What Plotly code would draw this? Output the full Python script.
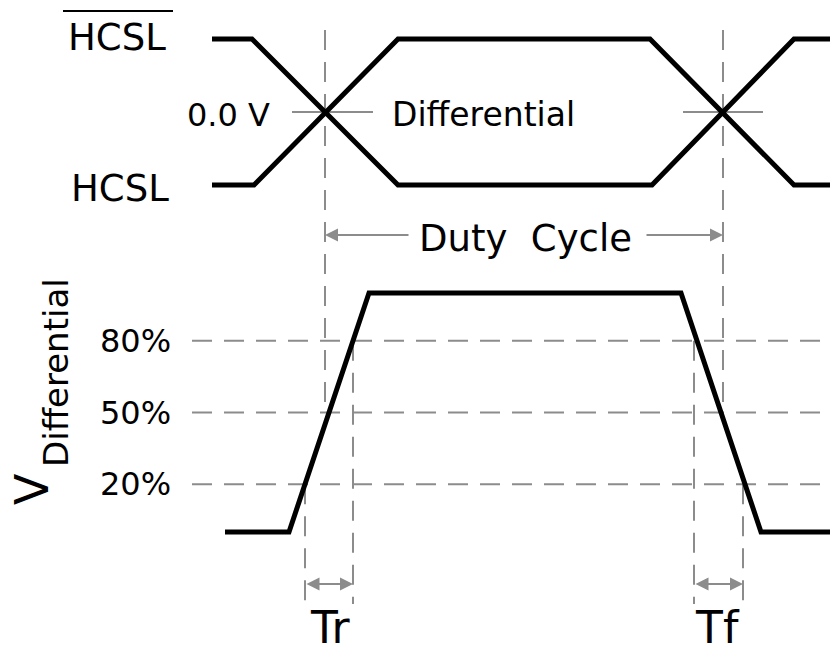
import plotly.graph_objects as go

W, H = 830, 655

# ---- data ----
# top panel: complementary HCSL pair (levels +1 / -1, crossing at 0.0 V)
t_hcsl_bar = [212, 252, 398, 652, 794, 830]
v_hcsl_bar = [1, 1, -1, -1, 1, 1]
t_hcsl = [212, 254, 398, 650, 794, 830]
v_hcsl = [-1, -1, 1, 1, -1, -1]
cross_t = [325, 723]                      # 0.0 V crossing instants
cross_mark = [[292, 373], [683, 763]]     # short grey reference marks at 0.0 V

# bottom panel: normalised differential voltage
t_diff = [225, 289, 369, 681, 761, 830]
v_diff = [0, 0, 1, 1, 0, 0]
thresh_levels = [0.2, 0.5, 0.8]
thresh_labels = ["20%", "50%", "80%"]
tr_marks = [305, 353]                     # 20% / 80% on rising edge
tf_marks = [694, 743]                     # 80% / 20% on falling edge

FONT = "DejaVu Sans"
GREY = "#8c8c8c"

# ---- pixel helpers for layout ----
def py(p):            # pixel row -> paper
    return 1 - p / H

def px(p):            # pixel column -> paper
    return p / W

# top axis: +1 -> 39 px, -1 -> 185 px
top_ppu = (185 - 39) / 2
top_zero = 112
y_top_range = [-(H - top_zero) / top_ppu, top_zero / top_ppu]
def y_top(p):
    return (top_zero - p) / top_ppu

# bottom axis: 0 -> 532 px, 1 -> 293 px
bot_ppu = 532 - 293
bot_zero = 532
y_bot_range = [-(H - bot_zero) / bot_ppu, bot_zero / bot_ppu]
def y_bot(p):
    return (bot_zero - p) / bot_ppu

fig = go.Figure()
fig.add_trace(go.Scatter(x=t_hcsl_bar, y=v_hcsl_bar, mode="lines",
                         line=dict(color="black", width=5), yaxis="y", hoverinfo="skip"))
fig.add_trace(go.Scatter(x=t_hcsl, y=v_hcsl, mode="lines",
                         line=dict(color="black", width=5), yaxis="y", hoverinfo="skip"))
fig.add_trace(go.Scatter(x=t_diff, y=v_diff, mode="lines",
                         line=dict(color="black", width=5), yaxis="y2", hoverinfo="skip"))

shapes = []
dash = "20px,12px"
# threshold lines
for lv in thresh_levels:
    shapes.append(dict(type="line", xref="x", yref="y2", x0=192, x1=830, y0=lv, y1=lv,
                       line=dict(color=GREY, width=2, dash=dash), layer="below"))
# crossing verticals (from top down to 50%)
for ct in cross_t:
    shapes.append(dict(type="line", xref="x", yref="y2", x0=ct, x1=ct,
                       y0=y_bot(30), y1=0.5,
                       line=dict(color=GREY, width=2, dash=dash), layer="below"))
# crosshair marks at 0.0 V
for a, b in cross_mark:
    shapes.append(dict(type="line", xref="x", yref="y", x0=a, x1=b, y0=0, y1=0,
                       line=dict(color=GREY, width=2), layer="below"))
# rise / fall measurement verticals
meas = [(tr_marks[0], 0.2), (tr_marks[1], 0.8), (tf_marks[0], 0.8), (tf_marks[1], 0.2)]
for xm, lv in meas:
    shapes.append(dict(type="line", xref="x", yref="y2", x0=xm, x1=xm,
                       y0=lv, y1=y_bot(604),
                       line=dict(color=GREY, width=2, dash=dash), layer="below"))
# overline over the first HCSL label
shapes.append(dict(type="line", xref="paper", yref="paper", x0=px(63), x1=px(173),
                   y0=py(11), y1=py(11), line=dict(color="black", width=2)))

ann = []
def text(s, x, y, size, **kw):
    d = dict(text=s, x=px(x), y=py(y), xref="paper", yref="paper", showarrow=False,
             font=dict(family=FONT, size=size, color="black"),
             xanchor="center", yanchor="middle")
    d.update(kw)
    ann.append(d)

text("HCSL", 117, 38, 37)
text("HCSL", 120, 188, 37)
text("0.0 V", 228, 115, 32)
text("Differential", 483, 115, 33)
text("Duty  Cycle", 525, 238, 37)
for lv, lab in zip(thresh_levels, thresh_labels):
    ann.append(dict(text=lab, x=173, y=lv, xref="x", yref="y2", showarrow=False,
                    font=dict(family=FONT, size=32, color="black"),
                    xanchor="right", yanchor="middle"))
text("Tr", 330, 654, 44, yanchor="bottom", borderpad=0)
text("Tf", 717, 654, 44, yanchor="bottom", borderpad=0)
text("V", 32, 489, 46, textangle=-90)
text("Differential", 56, 373, 34, textangle=-90)

# arrows
def arrow(xh, xt, yv, yref, both=False):
    ann.append(dict(x=xh, y=yv, ax=xt, ay=yv, xref="x", yref=yref, axref="x", ayref=yref,
                    text="", showarrow=True, arrowhead=2, startarrowhead=2,
                    arrowside="end+start" if both else "end",
                    arrowsize=1.3, arrowwidth=2, arrowcolor=GREY, standoff=0, startstandoff=0))

arrow(cross_t[0], 410, y_top(235), "y")
arrow(cross_t[1], 645, y_top(235), "y")
arrow(tr_marks[1], tr_marks[0], y_bot(584), "y2", both=True)
arrow(tf_marks[1], tf_marks[0], y_bot(584), "y2", both=True)

fig.update_layout(
    width=W, height=H, margin=dict(l=0, r=0, t=0, b=0),
    paper_bgcolor="white", plot_bgcolor="white", showlegend=False,
    xaxis=dict(range=[0, W], visible=False, fixedrange=True),
    yaxis=dict(range=y_top_range, visible=False, fixedrange=True, domain=[0, 1]),
    yaxis2=dict(range=y_bot_range, visible=False, fixedrange=True, overlaying="y"),
    shapes=shapes, annotations=ann,
)

fig.write_html("out.html", config={"displayModeBar": False},
               post_script="document.body.style.margin='0';document.body.style.overflow='hidden';")
